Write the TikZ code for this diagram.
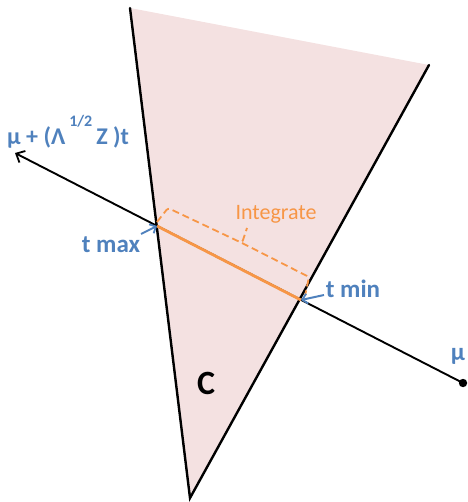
\documentclass[tikz,border=0pt]{standalone}
\usepackage{fontspec}
\setmainfont{Carlito}
\usetikzlibrary{arrows.meta}
\definecolor{coneFill}{HTML}{F4E1E1}
\definecolor{lblBlue}{HTML}{4F81BD}
\definecolor{intOrange}{HTML}{F79646}
\begin{document}
\begin{tikzpicture}[x=1pt,y=-1pt,
    coneEdgeS/.style={line width=2.4pt,line cap=round},
    rayS/.style={line width=1.9pt,-{Straight Barb[length=7pt,width=13pt,line width=1.8pt]}},
    segS/.style={intOrange,line width=2.8pt},
    bracketS/.style={intOrange,line width=1.8pt,dash pattern=on 7pt off 4pt,rounded corners=2.5pt},
    hintS/.style={lblBlue,line width=2pt,-{Straight Barb[length=5pt,width=10pt,line width=1.8pt]}},
    blueLbl/.style={lblBlue,font=\fontsize{25}{27}\selectfont\bfseries,inner sep=0pt},
]
\useasboundingbox (0,0) rectangle (467,502);
% cone C
\coordinate (coneTL) at (130,8);
\coordinate (coneTR) at (429,65);
\coordinate (apex) at (190,498);
\fill[coneFill] (coneTL) -- (coneTR) -- (apex) -- cycle;
\draw[coneEdgeS] (coneTL) -- (apex) -- (coneTR);
\node[font=\fontsize{34}{36}\selectfont\bfseries] (coneLbl) at (206,383) {C};
% ray from mu
\coordinate (mu) at (463,383);
\coordinate (rayTip) at (15,153);
\coordinate (tmax) at (157,226);
\coordinate (tmin) at (301,300);
\draw[rayS] (mu) -- (rayTip);
\fill (mu) circle (4.2);
\draw[segS] (tmax) -- (tmin);
% integrate bracket
\coordinate (bL0) at (157,222);
\coordinate (bL1) at (168,208);
\coordinate (bMid) at (242,243);
\coordinate (bTip) at (247,228);
\coordinate (bR1) at (309,277);
\coordinate (bR0) at (305,296);
\draw[bracketS] (bL0) -- (bL1) -- (bMid) -- (bTip);
\draw[bracketS] (bMid) -- (bR1) -- (bR0);
\node[intOrange,font=\fontsize{22}{24}\selectfont,inner sep=0pt] (intLbl) at (276,214) {Integrate};
% labels
\node[blueLbl] (tmaxLbl) at (111,245) {t max};
\node[blueLbl] (tminLbl) at (353,289) {t min};
\node[blueLbl,font=\fontsize{25}{26}\selectfont\bfseries] (muLbl) at (458,356) {μ};
\node[blueLbl,font=\fontsize{24}{25}\selectfont\bfseries,anchor=base west] (rayLbl) at (7,145) {μ + (Λ\,\raisebox{18pt}{\fontsize{16}{17}\selectfont 1/2}\,Z )t};
\coordinate (tmaxTail) at (141,234);
\coordinate (tminTail) at (324,295);
\draw[hintS] (tmaxTail) -- (tmax);
\draw[hintS] (tminTail) -- (tmin);
\end{tikzpicture}
\end{document}
